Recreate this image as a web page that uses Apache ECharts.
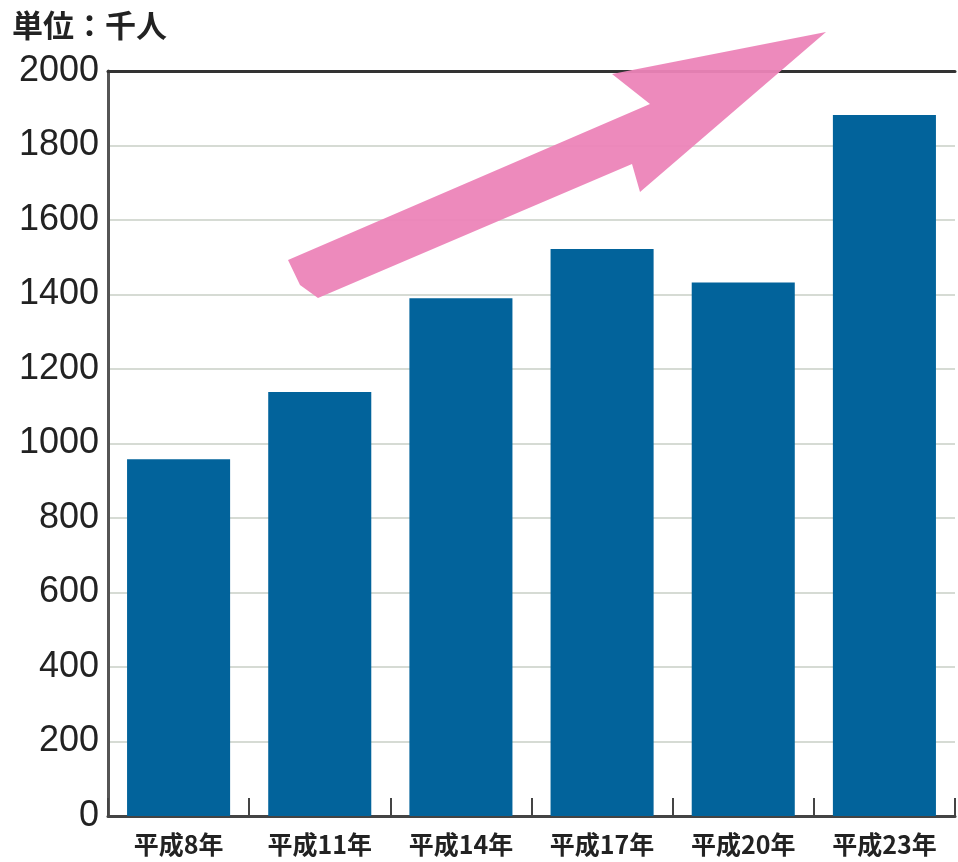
<!DOCTYPE html>
<html>
<head>
<meta charset="utf-8">
<script src="https://cdn.jsdelivr.net/npm/echarts@6/dist/echarts.min.js"></script>
<style>html,body{margin:0;padding:0;background:#fff}#c{width:958px;height:862px}</style>
</head>
<body>
<div id="c"></div>
<script>
const categories = ['平成8年', '平成11年', '平成14年', '平成17年', '平成20年', '平成23年'];
const values = [958, 1138, 1390, 1522, 1432, 1882];
const unitLabel = '単位：千人';

const chart = echarts.init(document.getElementById('c'), null, {renderer: 'canvas'});
chart.setOption({
  animation: false,
  backgroundColor: '#ffffff',
  grid: {left: 108, right: 3, top: 71, bottom: 46, containLabel: false},
  xAxis: [{
    type: 'category',
    data: categories,
    position: 'bottom',
    axisLine: {show: true, lineStyle: {color: '#444', width: 3}},
    axisTick: {show: true, inside: true, length: 18, interval: 0, lineStyle: {color: '#444', width: 2}},
    axisLabel: {color: '#222', fontSize: 25, fontWeight: 'bold', margin: 16, interval: 0,
      hideOverlap: false,
      fontFamily: '"Noto Sans CJK JP", sans-serif'}
  }, {
    type: 'category',
    data: categories,
    position: 'top',
    axisLine: {show: true, lineStyle: {color: '#333', width: 3}},
    axisTick: {show: false},
    axisLabel: {show: false}
  }],
  yAxis: {
    type: 'value',
    min: 0, max: 2000, interval: 200,
    axisLine: {show: true, lineStyle: {color: '#555', width: 3}},
    axisTick: {show: false},
    axisLabel: {color: '#222', fontSize: 36, margin: 9,
      formatter: function (v) { return String(v); },
      fontFamily: '"Liberation Sans", Arial, sans-serif'},
    splitLine: {show: true, lineStyle: {color: '#d6dbd4', width: 2}}
  },
  series: [{
    type: 'bar',
    data: values,
    barWidth: '73%',
    itemStyle: {color: '#02639b'},
    z: 3
  }],
  graphic: [
    {
      type: 'text', left: 12, top: 10,
      style: {text: unitLabel, fill: '#222', fontSize: 31, fontWeight: 'bold',
        fontFamily: '"Noto Sans CJK JP", sans-serif'}
    },
    {
      type: 'polygon', z: 100,
      shape: {points: [[288,260],[650,104],[612,74],[826,32],[640,192],[632,164],[318,298],[300,285]]},
      style: {fill: '#ec84b8', opacity: 0.95}
    }
  ]
});
</script>
</body>
</html>
